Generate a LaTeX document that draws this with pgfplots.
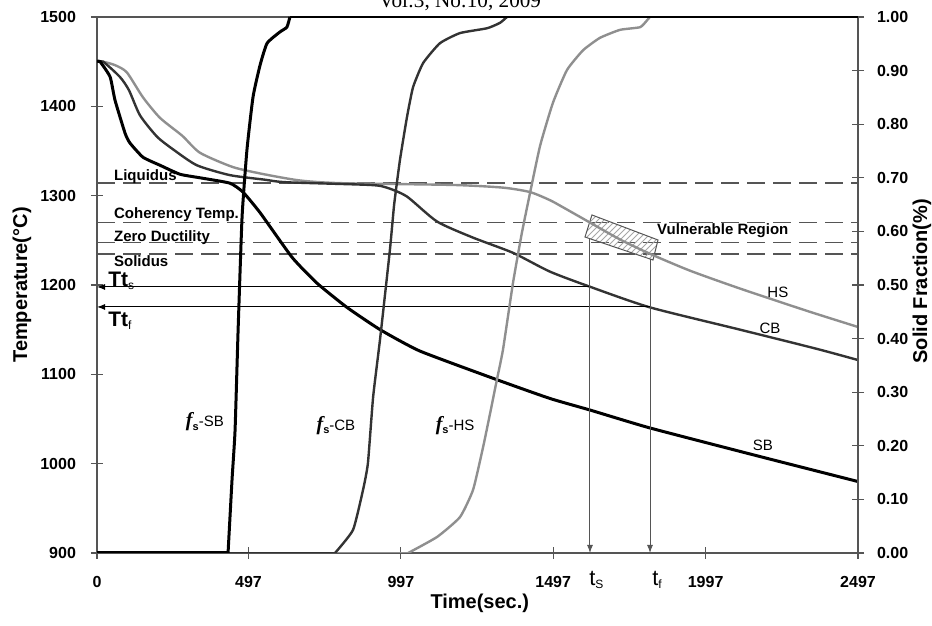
\documentclass[border=0pt]{standalone}
\usepackage{pgfplots}
\pgfplotsset{compat=1.18}
\usepackage{fontspec}
\setmainfont{Liberation Sans}
\newfontfamily\timesf{Liberation Serif}
\usetikzlibrary{patterns,arrows.meta}

\definecolor{cbcol}{HTML}{333333}
\definecolor{hscol}{HTML}{8F8F8F}
\definecolor{axcol}{HTML}{555555}

\newcommand{\ticksz}{\fontsize{8}{9}\selectfont\bfseries}
\newcommand{\annsz}{\fontsize{7.5}{9}\selectfont}
\newcommand{\labsz}{\fontsize{10}{12}\selectfont\bfseries}
\newcommand{\fsl}[1]{{\timesf\fontsize{10}{12}\selectfont\bfseries\itshape f}\raisebox{-0.35ex}{\fontsize{5.5}{6}\selectfont\bfseries s}{\annsz-#1}}

\begin{document}
\begin{tikzpicture}
\begin{axis}[
  at={(0,0)}, anchor=south west,
  scale only axis, width=380.5pt, height=268pt,
  xmin=0, xmax=2497, ymin=900, ymax=1500,
  xtick={0,497,997,1497,1997,2497},
  xticklabels={0,497,997,1497,1997,2497},
  ytick={900,1000,1100,1200,1300,1400,1500},
  yticklabels={900,1000,1100,1200,1300,1400,1500},
  tick pos=left,
  tick align=center,
  major tick length=6pt,
  axis line style={draw=axcol, line width=0.6pt},
  every tick/.style={draw=axcol, line width=0.6pt},
  ticklabel style={font=\ticksz},
  xticklabel style={yshift=-5pt},
  yticklabel style={xshift=-4pt},
  clip mode=individual,
]
% dashed reference lines
\addplot[axcol, line width=0.55pt, dash pattern=on 9pt off 4pt] coordinates {(0,1314.2) (2497,1314.2)};
\addplot[axcol, line width=0.55pt, dash pattern=on 9pt off 4pt] coordinates {(0,1270.2) (2497,1270.2)};
\addplot[axcol, line width=0.55pt, dash pattern=on 9pt off 4pt] coordinates {(0,1247.4) (2497,1247.4)};
\addplot[axcol, line width=0.55pt, dash pattern=on 9pt off 4pt] coordinates {(0,1234.7) (2497,1234.7)};
% vulnerable region
\addplot[draw=axcol, line width=0.5pt, pattern=north east lines, pattern color=gray!70] coordinates {(1624,1278.4) (1840.7,1250.4) (1824.3,1228.0) (1601.2,1253.7)} -- cycle;
% HS
\addplot[hscol, line width=1.2pt, smooth, tension=0.4] coordinates {
(0,1450) (20,1450) (60,1446) (98,1438) (151,1410) (207,1387) (280,1367) (338,1348) (446,1332) (548,1324) (666,1317) (800,1314) (1168,1312) (1332,1309) (1421,1304) (1486,1295) (1529,1287) (1617,1270) (1716,1251) (1814,1235) (1946,1216) (2110,1196) (2330,1171) (2497,1153)};
% CB
\addplot[cbcol, line width=1.2pt, smooth, tension=0.4] coordinates {
(0,1450) (20,1450) (75,1433) (105,1418) (141,1390) (197,1366) (253,1351) (328,1334) (436,1323) (548,1318) (623,1315) (896,1312) (951,1309) (1017,1299) (1116,1271) (1234,1253) (1365,1236) (1486,1215) (1618,1198) (1814,1175) (2110,1150) (2362,1128.5) (2497,1116)};
% SB
\addplot[black, line width=1.5pt, smooth, tension=0.3] coordinates {
(0,1450) (10,1450) (43,1433) (59,1407) (92,1370) (108,1359) (151,1343) (207,1334) (272,1324) (338,1320) (436,1314) (479,1304) (535,1281) (640,1231) (722,1202) (820,1175) (929,1150) (1060,1126) (1312,1094) (1486,1073) (1618,1060) (1814,1040) (2175,1008) (2497,980)};
% arrows
\addplot[black, line width=0.5pt, -{Latex[length=4pt,width=3pt]}] coordinates {(1617.6,1197.8) (0,1197.8)};
\addplot[black, line width=0.5pt, -{Latex[length=4pt,width=3pt]}] coordinates {(1814.5,1175.4) (0,1175.4)};
\addplot[axcol, line width=0.5pt, -{Latex[length=4pt,width=3pt]}] coordinates {(1617.6,1251.8) (1617.6,900)};
\addplot[axcol, line width=0.5pt, -{Latex[length=4pt,width=3pt]}] coordinates {(1814.5,1229) (1814.5,900)};
% annotations
\node[anchor=base west, font=\annsz\bfseries] at (axis cs:33,1317.5) {Liquidus};
\node[anchor=base west, font=\annsz\bfseries] at (axis cs:33,1275) {Coherency Temp.};
\node[anchor=base west, font=\annsz\bfseries] at (axis cs:33,1249) {Zero Ductility};
\node[anchor=base west, font=\annsz\bfseries] at (axis cs:33,1221) {Solidus};
\node[anchor=base west, inner sep=0pt] at (axis cs:36,1198.5) {{\fontsize{10.5}{12}\selectfont\bfseries Tt}\raisebox{-0.3ex}{\fontsize{6}{7}\selectfont s}};
\node[anchor=base west, inner sep=0pt] at (axis cs:36,1154) {{\fontsize{10.5}{12}\selectfont\bfseries Tt}\raisebox{-0.3ex}{\fontsize{6}{7}\selectfont f}};
\node[anchor=base west, font=\annsz\bfseries] at (axis cs:1815,1257) {Vulnerable Region};
\node[font=\annsz] at (axis cs:2234,1192) {HS};
\node[font=\annsz] at (axis cs:2208,1152) {CB};
\node[font=\annsz] at (axis cs:2185,1020) {SB};
\node at (axis cs:354,1047) {\fsl{SB}};
\node at (axis cs:784,1043) {\fsl{CB}};
\node at (axis cs:1175,1043) {\fsl{HS}};
\node[anchor=base west, inner sep=0pt] at (axis cs:1614,864) {{\fontsize{11}{12}\selectfont t}\raisebox{-0.3ex}{\fontsize{6}{7}\selectfont S}};
\node[anchor=base west, inner sep=0pt] at (axis cs:1821,864) {{\fontsize{11}{12}\selectfont t}\raisebox{-0.3ex}{\fontsize{6}{7}\selectfont f}};
% axis labels
\node[rotate=90, font=\labsz] at (axis description cs:-0.0986,0.5) {Temperature(°C)};
\node[font=\labsz] at (axis description cs:0.503,-0.0933) {Time(sec.)};
\node[rotate=90, font=\labsz] at (axis description cs:1.084,0.507) {Solid Fraction(\%)};
\end{axis}
\begin{axis}[
  at={(0,0)}, anchor=south west,
  scale only axis, width=380.5pt, height=268pt,
  xmin=0, xmax=2497, ymin=0, ymax=1,
  axis x line=none, axis y line*=right,
  ytick={0,0.1,0.2,0.3,0.4,0.5,0.6,0.7,0.8,0.9,1},
  yticklabels={0.00,0.10,0.20,0.30,0.40,0.50,0.60,0.70,0.80,0.90,1.00},
  tick align=center,
  major tick length=6pt,
  axis line style={-, draw=axcol, line width=0.6pt},
  every tick/.style={draw=axcol, line width=0.6pt},
  ticklabel style={font=\ticksz},
  yticklabel style={xshift=3pt},
  clip mode=individual,
]
% fs-HS
\addplot[hscol, line width=1.2pt] coordinates {(0,0) (1021,0)};
\addplot[hscol, line width=1.2pt, smooth, tension=0.3] coordinates {
(1021,0) (1116,0.03) (1191,0.067) (1234,0.118) (1267,0.198) (1290,0.261) (1312,0.323) (1332,0.379) (1365,0.504) (1394,0.597) (1421,0.672) (1454,0.760) (1496,0.840) (1542,0.901) (1595,0.938) (1650,0.961) (1716,0.976) (1782,0.981) (1805,0.994) (1814,1.0)};
\addplot[hscol, line width=1.2pt] coordinates {(1814,1.0) (2497,1.0)};
% fs-CB
\addplot[cbcol, line width=1.2pt] coordinates {(0,0) (781,0)};
\addplot[cbcol, line width=1.2pt, smooth, tension=0.3] coordinates {
(781,0) (840,0.043) (873,0.118) (889,0.168) (906,0.291) (929,0.40) (961,0.565) (975,0.65) (994,0.733) (1017,0.813) (1037,0.869) (1070,0.914) (1125,0.951) (1191,0.970) (1280,0.979) (1322,0.989) (1345,1.0)};
\addplot[cbcol, line width=1.2pt] coordinates {(1345,1.0) (2497,1.0)};
% fs-SB
\addplot[black, line width=1.5pt] coordinates {(0,0) (430,0)};
\addplot[black, line width=1.5pt, smooth, tension=0.3] coordinates {
(430,0) (443,0.136) (453,0.229) (463,0.416) (476,0.627) (492,0.752) (512,0.851) (535,0.910) (558,0.951) (600,0.972) (623,0.981) (633,1.0)};
\addplot[black, line width=1.5pt] coordinates {(633,1.0) (2497,1.0)};
\end{axis}
\node[font=\timesf\fontsize{10.6}{12}\selectfont, anchor=base] at (181.5pt,272.5pt) {Vol:3, No:10, 2009};
\pgfresetboundingbox
\path (-48.5pt,-36.5pt) rectangle (417.5pt,276.5pt);
\end{tikzpicture}
\end{document}
